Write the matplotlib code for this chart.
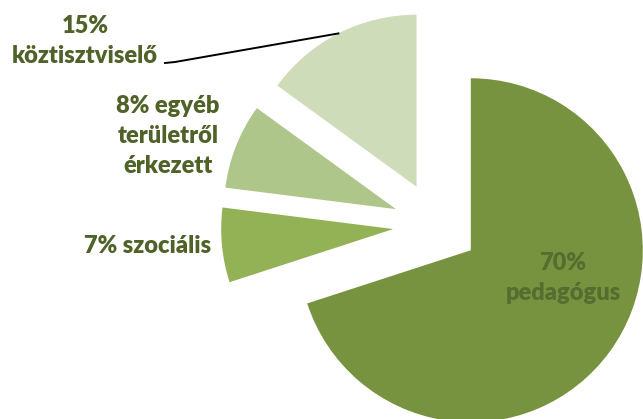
import numpy as np
import matplotlib.pyplot as plt

# data
labels = ["70%\npedagógus", "7% szociális", "8% egyéb\nterületről\nérkezett", "15%\nköztisztviselő"]
shares = [70, 7, 8, 15]
colors = ["#78933f", "#93b155", "#afc68a", "#cfdcba"]

# label centres in pixel coords of the reference (x from left, y from top)
label_px = [(563, 278), (148, 246), (168, 136), (85, 41)]

W, H = 643, 419
CX, CY, R = 436, 225, 172   # pie centre and radius in pixels


def to_data(x, y):
    return (x - CX) / R, (CY - y) / R


fig = plt.figure(figsize=(W / 100, H / 100), dpi=100)
ax = fig.add_axes([0, 0, 1, 1])

wedges, _ = ax.pie(shares, colors=colors, startangle=90, counterclock=False,
                   explode=[0.25] * len(shares), radius=1,
                   wedgeprops=dict(linewidth=0))

ax.set_xlim(-CX / R, (W - CX) / R)
ax.set_ylim(-(H - CY) / R, CY / R)
ax.set_aspect("equal")
ax.axis("off")

dark = "#4f6228"
for i, (lab, (px, py)) in enumerate(zip(labels, label_px)):
    col = "#556e30" if i == 0 else dark
    x, y = to_data(px, py)
    ax.text(x, y, lab, ha="center", va="center", color=col,
            fontsize=17, fontweight="heavy", family="Lato", linespacing=1.42)

# leader line for the 15% slice: from its arc midpoint to the label
w = wedges[3]
mid = np.deg2rad((w.theta1 + w.theta2) / 2)
ex, ey = w.center[0] + np.cos(mid), w.center[1] + np.sin(mid)
x1, y1 = to_data(175, 62)
x0, y0 = to_data(165, 63)
ax.plot([ex, x1, x0], [ey, y1, y0], color="black", lw=1.4)

fig.savefig("out.png", dpi=100)
